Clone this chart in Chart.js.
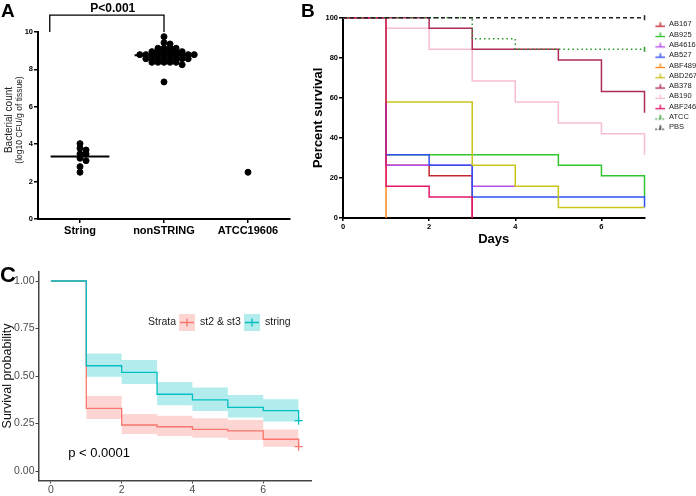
<!DOCTYPE html>
<html>
<head>
<meta charset="utf-8">
<script src="https://cdn.jsdelivr.net/npm/chart.js@4.4.0/dist/chart.umd.min.js"></script>
<style>
  html, body { margin: 0; padding: 0; background: #fff; }
  #wrap { position: relative; width: 696px; height: 496px; overflow: hidden; font-family: 'Liberation Sans', Arial, sans-serif; }
  canvas { position: absolute; }
  #cA { left: 0; top: 0; }
  #cB { left: 300px; top: 0; }
  #cC { left: 0; top: 250px; }
  .panel { position: absolute; font-weight: bold; color: #000; }
  #ytA { position: absolute; left: -51px; top: 110px; width: 130px; height: 20px; font-size: 9px; transform: rotate(-90deg); transform-origin: 50% 50%; text-align: center; color: #222; line-height: 9.5px; }
</style>
</head>
<body>
<div id="wrap">
  <canvas id="cA" width="300" height="250"></canvas>
  <canvas id="cB" width="407" height="250"></canvas>
  <canvas id="cC" width="330" height="246"></canvas>
  <div class="panel" style="left:1px;top:0px;font-size:19px;">A</div>
  <div class="panel" style="left:301px;top:0px;font-size:19px;">B</div>
  <div class="panel" style="left:0px;top:262px;font-size:22px;">C</div>
  <div id="ytA"><span style="font-size:10px">Bacterial count</span><br><span style="font-size:8.5px">(log10 CFU/g of tissue)</span></div>
</div>
<script>
// ---------- panel A data ----------
const catsA = ['String', 'nonSTRING', 'ATCC19606'];
const stringVals = [4.03, 3.78, 3.69, 3.48, 3.48, 3.25, 3.12, 2.80, 2.50];
const nonStringVals = [9.75, 9.43, 9.36, 9.13, 9.13, 9.13, 9.13, 8.95, 8.95, 8.95, 8.95, 8.95, 8.95,
  8.79, 8.79, 8.79, 8.79, 8.79, 8.79, 8.79, 8.79, 8.79, 8.79,
  8.57, 8.57, 8.57, 8.57, 8.57, 8.57, 8.57, 8.57, 8.38, 8.38, 8.38, 8.38, 8.38, 8.25, 7.33];
const atccVals = [2.50];
const aYTicks = [0, 2, 4, 6, 8, 10];
const pLabelA = 'P<0.001';

// ---------- panel B data ----------
const bDays = [0, 1, 2, 3, 4, 5, 6, 7];
const bNames = ['AB167', 'AB925', 'AB4616', 'AB527', 'ABF489', 'ABD267', 'AB378', 'AB190', 'ABF246', 'ATCC', 'PBS'];
const ab167 = [100, 26.3, 21.1, 0];
const ab925 = [100, 31.6, 31.6, 31.6, 31.6, 26.3, 21.1, 10.5];
const ab4616 = [100, 26.3, 26.3, 15.8, 15.8];
const ab527 = [100, 31.6, 26.3, 10.5, 10.5, 10.5, 10.5, 5.3];
const abf489 = [100, 0];
const abd267 = [100, 57.9, 57.9, 26.3, 15.8, 5.3, 5.3, 5.3];
const ab378 = [100, 100, 94.7, 84.2, 84.2, 78.9, 63.2, 52.6];
const ab190 = [100, 94.7, 84.2, 68.4, 57.9, 47.4, 42.1, 31.6];
const abf246 = [100, 15.8, 10.5, 0];
const atcc = [100, 100, 100, 89.5, 84.2, 84.2, 84.2, 84.2];
const pbs = [100, 100, 100, 100, 100, 100, 100, 100];
const bXTicks = [0, 2, 4, 6];
const bYTicks = [0, 20, 40, 60, 80, 100];

// ---------- panel C data ----------
const cDays = [0, 1, 2, 3, 4, 5, 6, 7];
const cStrata = ['st2 & st3', 'string'];
const stringSurv = [1, 0.554, 0.519, 0.404, 0.374, 0.335, 0.318, 0.265];
const stringUpper = [1, 0.619, 0.584, 0.468, 0.439, 0.400, 0.377];
const stringLower = [1, 0.496, 0.458, 0.346, 0.316, 0.281, 0.260];
const st23Surv = [1, 0.330, 0.242, 0.233, 0.219, 0.211, 0.167, 0.128];
const st23Upper = [1, 0.395, 0.300, 0.291, 0.277, 0.268, 0.219];
const st23Lower = [1, 0.274, 0.195, 0.184, 0.175, 0.163, 0.128];
const cXTicks = [0, 2, 4, 6];
const cYTicks = [0, 0.25, 0.5, 0.75, 1];
const pLabelC = 'p < 0.0001';

const PRISM = "'Liberation Sans', Arial, sans-serif";
const GG = "Arial, 'Liberation Sans', sans-serif";

// simple beeswarm: dots placed in order, nudged sideways until they stop overlapping
function swarm(vals, center, dx, dy) {
  const placed = [];
  vals.slice().sort((a, b) => b - a).forEach(v => {
    for (let k = 0; k < 60; k++) {
      const off = k === 0 ? 0 : (k % 2 ? 1 : -1) * Math.ceil(k / 2) * dx;
      const free = placed.every(p => ((p.x - center - off) / dx) ** 2 + ((p.y - v) / dy) ** 2 >= 0.98);
      if (free) { placed.push({ x: center + off, y: v }); break; }
    }
  });
  return placed;
}
const mean = arr => arr.reduce((s, v) => s + v, 0) / arr.length;

// ================= A =================
const groupsA = [stringVals, nonStringVals, atccVals];
const dotsA = groupsA.flatMap((vals, i) => swarm(vals, i, 0.072, 0.15));
const meanSets = groupsA.map((vals, i) => vals.length > 1 ? {
  type: 'line',
  data: [{ x: i - 0.35, y: mean(vals) }, { x: i + 0.35, y: mean(vals) }],
  borderColor: '#000', borderWidth: 2, pointRadius: 0
} : null).filter(Boolean);

const bracketPlugin = {
  id: 'bracket',
  afterDraw(chart) {
    const { ctx, scales: { x, y } } = chart;
    const x0 = x.getPixelForValue(-0.36), x1 = x.getPixelForValue(1.0);
    const yTop = y.getPixelForValue(10.9), yLow = y.getPixelForValue(10);
    ctx.save();
    ctx.strokeStyle = '#000';
    ctx.lineWidth = 1.3;
    ctx.beginPath();
    ctx.moveTo(x0, yLow); ctx.lineTo(x0, yTop); ctx.lineTo(x1, yTop); ctx.lineTo(x1, yLow);
    ctx.stroke();
    ctx.fillStyle = '#000';
    ctx.font = 'bold 12px ' + PRISM;
    ctx.textAlign = 'center';
    ctx.textBaseline = 'bottom';
    ctx.fillText(pLabelA, x.getPixelForValue(0.39), yTop);
    ctx.restore();
  }
};

new Chart(document.getElementById('cA'), {
  type: 'scatter',
  data: {
    datasets: [{
      data: dotsA, backgroundColor: '#000', borderColor: '#000', pointRadius: 3, pointHoverRadius: 3
    }].concat(meanSets)
  },
  options: {
    responsive: false, animation: false,
    layout: { padding: { top: 32, right: 10, left: 0, bottom: 0 } },
    plugins: { legend: { display: false }, tooltip: { enabled: false } },
    scales: {
      x: {
        type: 'linear', min: -0.5, max: 2.5,
        afterBuildTicks: s => { s.ticks = catsA.map((_, i) => ({ value: i })); },
        afterFit: s => { s.height = 31; },
        ticks: { callback: v => catsA[v], color: '#000', font: { family: PRISM, size: 11, weight: 'bold' }, padding: 1, maxRotation: 0 },
        grid: { drawOnChartArea: false, tickLength: 4, color: '#000', lineWidth: 1.5 },
        border: { color: '#000', width: 2 }
      },
      y: {
        min: 0, max: 10,
        afterBuildTicks: s => { s.ticks = aYTicks.map(v => ({ value: v })); },
        afterFit: s => { s.width = 38; },
        ticks: { color: '#000', font: { family: PRISM, size: 7.5, weight: 'bold' }, padding: 1 },
        grid: { drawOnChartArea: false, tickLength: 4, color: '#000', lineWidth: 1.5 },
        border: { color: '#000', width: 2 }
      }
    }
  },
  plugins: [bracketPlugin]
});

// ================= B =================
const bSeries = [ab167, ab925, ab4616, ab527, abf489, abd267, ab378, ab190, abf246, atcc, pbs];
const bColors = ['#c1272d', '#33c433', '#b44ee8', '#2f4ff2', '#ff8a1f', '#c9c31a', '#ad2b57', '#f9bcd6', '#e2176b', '#2a962a', '#222222'];
const bDash = [[], [], [], [], [], [], [], [], [], [1.5, 3], [4, 3]];
const bOrder = [8, 6, 7, 5, 9, 4, 3, 10, 2, 1, 0];

function legendMark(color, dash) {
  const c = document.createElement('canvas');
  c.width = 18; c.height = 9;
  const g = c.getContext('2d');
  g.strokeStyle = color;
  g.lineWidth = 1.4;
  g.setLineDash(dash.length ? [1.5, 2] : []);
  g.beginPath(); g.moveTo(8, 6.5); g.lineTo(18, 6.5); g.stroke();
  g.setLineDash([]);
  g.beginPath(); g.moveTo(13, 7); g.lineTo(13, 2.5); g.stroke();
  return c;
}

new Chart(document.getElementById('cB'), {
  type: 'line',
  data: {
    datasets: bSeries.map((vals, i) => {
      const mark = legendMark(bColors[i], bDash[i]);
      const censored = bDash[i].length > 0;   // dashed reference groups carry a censor tick at the end
      const isLast = ctx => censored && ctx.dataIndex === vals.length - 1;
      return {
        label: bNames[i],
        data: vals.map((v, k) => ({ x: bDays[k], y: v })),
        stepped: true,
        borderColor: bColors[i],
        backgroundColor: bColors[i],
        borderWidth: 1.5,
        borderDash: bDash[i],
        pointStyle: ctx => isLast(ctx) ? 'line' : mark,
        rotation: ctx => isLast(ctx) ? 90 : 0,
        pointRadius: ctx => isLast(ctx) ? 2.5 : 0,
        pointBorderWidth: 1.5,
        order: bOrder[i],
        clip: false
      };
    })
  },
  options: {
    responsive: false, animation: false,
    layout: { padding: { top: 17.7, right: 0, left: 0, bottom: 0 } },
    plugins: {
      tooltip: { enabled: false },
      legend: {
        position: 'right', align: 'start',
        labels: {
          usePointStyle: true, pointStyleWidth: 18, padding: 2.8,
          color: '#222', font: { family: PRISM, size: 7.5 },
          sort: (a, b) => a.datasetIndex - b.datasetIndex
        }
      }
    },
    scales: {
      x: {
        type: 'linear', min: 0, max: 7,
        afterBuildTicks: s => { s.ticks = bXTicks.map(v => ({ value: v })); },
        afterFit: s => { s.height = 32; },
        ticks: { color: '#000', font: { family: PRISM, size: 7.5, weight: 'bold' }, padding: 1 },
        grid: { drawOnChartArea: false, tickLength: 3, color: '#000', lineWidth: 1.5 },
        border: { color: '#000', width: 2 },
        title: { display: true, text: 'Days', color: '#000', font: { family: PRISM, size: 13, weight: 'bold' }, padding: { top: 0, bottom: 3 } }
      },
      y: {
        min: 0, max: 100,
        afterBuildTicks: s => { s.ticks = bYTicks.map(v => ({ value: v })); },
        afterFit: s => { s.width = 43; },
        ticks: { color: '#000', font: { family: PRISM, size: 7.5, weight: 'bold' }, padding: 1 },
        grid: { drawOnChartArea: false, tickLength: 4, color: '#000', lineWidth: 1.5 },
        border: { color: '#000', width: 2 },
        title: { display: true, text: 'Percent survival', color: '#000', font: { family: PRISM, size: 13, weight: 'bold' }, padding: { top: 11, bottom: 0 } }
      }
    }
  }
});

// ================= C =================
const CYAN = '#00BFC4', SALMON = '#F8766D';
const stepPts = vals => vals.map((v, k) => ({ x: cDays[k], y: v }));
const bandPts = vals => stepPts(vals).concat([{ x: cDays[vals.length], y: vals[vals.length - 1] }]);
const lastIdx = vals => ctx => ctx.dataIndex === vals.length - 1 ? 4 : 0;

const strataLegend = {
  id: 'strataLegend',
  afterDraw(chart) {
    const { ctx } = chart;
    ctx.save();
    ctx.font = '10.5px ' + GG;
    ctx.fillStyle = '#1a1a1a';
    ctx.textBaseline = 'middle';
    ctx.fillText('Strata', 148, 72.5);
    const keys = [[179, SALMON, 'rgba(248,118,109,0.3)'], [244, CYAN, 'rgba(0,191,196,0.3)']];
    keys.forEach(([kx, col, fillCol], i) => {
      ctx.fillStyle = fillCol;
      ctx.fillRect(kx, 64, 16, 17);
      ctx.strokeStyle = col;
      ctx.lineWidth = 1.3;
      ctx.beginPath();
      ctx.moveTo(kx + 1, 72.5); ctx.lineTo(kx + 15, 72.5);
      ctx.moveTo(kx + 8, 68.5); ctx.lineTo(kx + 8, 76.5);
      ctx.stroke();
      ctx.fillStyle = '#1a1a1a';
      ctx.fillText(cStrata[i], kx + 21, 72.5);
    });
    const { x, y } = chart.scales;
    ctx.font = '13px ' + GG;
    ctx.fillStyle = '#000';
    ctx.fillText(pLabelC, x.getPixelForValue(0.49), y.getPixelForValue(0.095));
    ctx.restore();
  }
};

new Chart(document.getElementById('cC'), {
  type: 'line',
  data: {
    datasets: [
      { data: stepPts(stringSurv), stepped: true, borderColor: CYAN, borderWidth: 1.3, pointStyle: 'cross', pointRadius: lastIdx(stringSurv), pointBorderWidth: 1.2, fill: false },
      { data: stepPts(st23Surv), stepped: true, borderColor: SALMON, borderWidth: 1.3, pointStyle: 'cross', pointRadius: lastIdx(st23Surv), pointBorderWidth: 1.2, fill: false },
      { data: bandPts(stringUpper), stepped: true, borderWidth: 0, pointRadius: 0, fill: false },
      { data: bandPts(stringLower), stepped: true, borderWidth: 0, pointRadius: 0, fill: '-1', backgroundColor: 'rgba(0,191,196,0.3)' },
      { data: bandPts(st23Upper), stepped: true, borderWidth: 0, pointRadius: 0, fill: false },
      { data: bandPts(st23Lower), stepped: true, borderWidth: 0, pointRadius: 0, fill: '-1', backgroundColor: 'rgba(248,118,109,0.3)' }
    ]
  },
  options: {
    responsive: false, animation: false,
    layout: { padding: { top: 21.5, right: 19, left: 0, bottom: 0 } },
    plugins: { legend: { display: false }, tooltip: { enabled: false } },
    scales: {
      x: {
        type: 'linear', min: -0.35, max: 7.35,
        afterBuildTicks: s => { s.ticks = cXTicks.map(v => ({ value: v })); },
        afterFit: s => { s.height = 15.5; },
        ticks: { color: '#4d4d4d', font: { family: GG, size: 10.5 }, padding: 0 },
        grid: { drawOnChartArea: false, tickLength: 3, color: '#444', lineWidth: 1 },
        border: { color: '#444', width: 1.5 }
      },
      y: {
        min: -0.05, max: 1.05,
        afterBuildTicks: s => { s.ticks = cYTicks.map(v => ({ value: v })); },
        afterFit: s => { s.width = 38.5; },
        ticks: { color: '#4d4d4d', font: { family: GG, size: 10.5 }, padding: 1, callback: v => v.toFixed(2) },
        grid: { drawOnChartArea: false, tickLength: 3, color: '#444', lineWidth: 1 },
        border: { color: '#444', width: 1.5 },
        title: { display: true, text: 'Survival probability', color: '#111', font: { family: GG, size: 12.5 }, padding: { top: 0, bottom: 0 } }
      }
    }
  },
  plugins: [strataLegend]
});
</script>
</body>
</html>
